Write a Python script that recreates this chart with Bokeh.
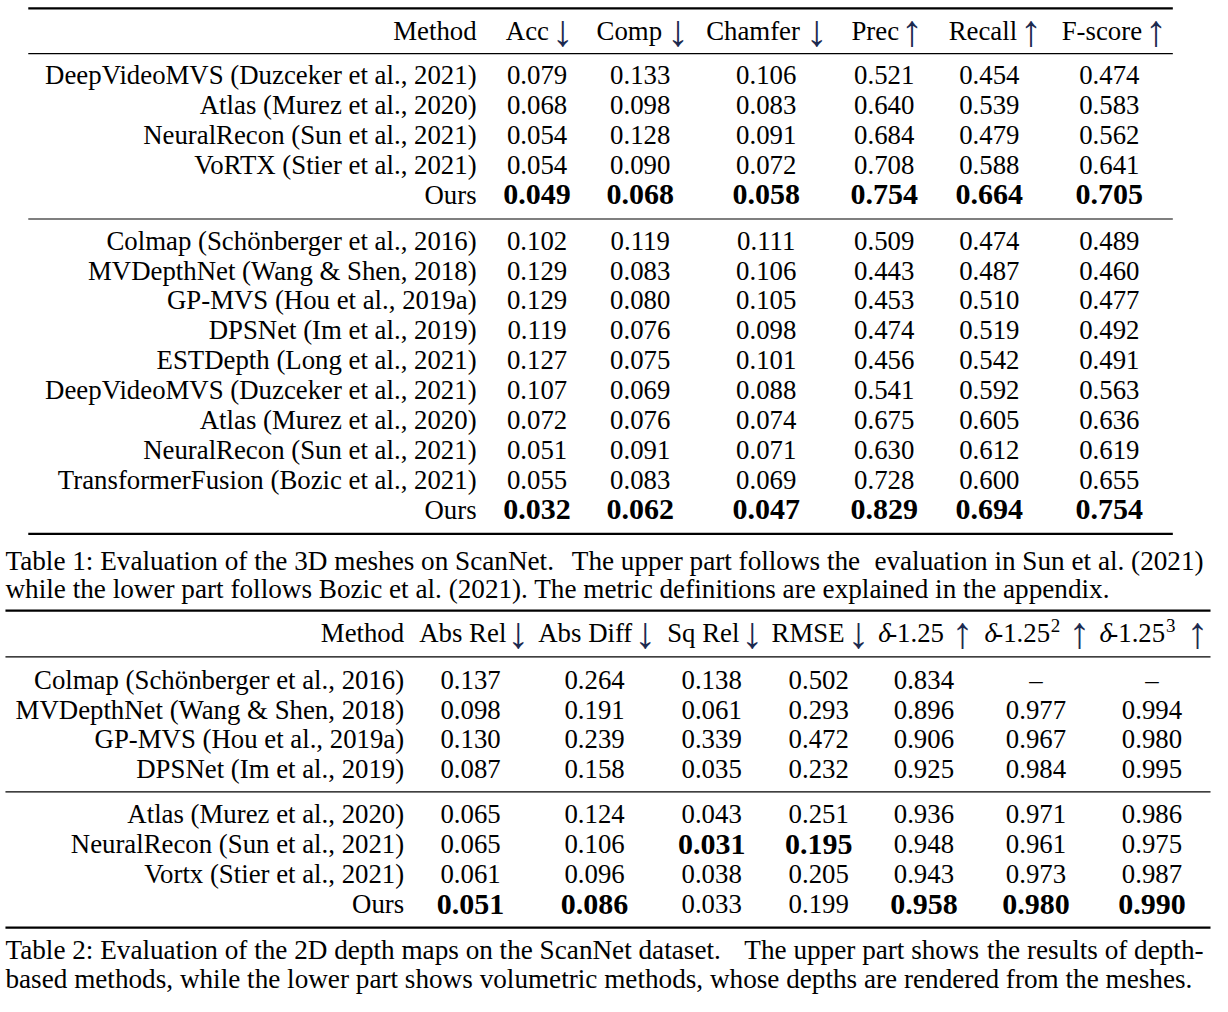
from bokeh.plotting import figure
from bokeh.models import Range1d, ColumnDataSource
from bokeh.embed import file_html
from bokeh.resources import INLINE
from bokeh.core.properties import value

# ---------------- data ----------------
t1_headers = ["Acc", "Comp", "Chamfer", "Prec", "Recall", "F-score"]
t1_arrows = ["↓", "↓", "↓", "↑", "↑", "↑"]

t1u_methods = ["DeepVideoMVS (Duzceker et al., 2021)", "Atlas (Murez et al., 2020)",
               "NeuralRecon (Sun et al., 2021)", "VoRTX (Stier et al., 2021)", "Ours"]
t1u_acc = [0.079, 0.068, 0.054, 0.054, 0.049]
t1u_comp = [0.133, 0.098, 0.128, 0.090, 0.068]
t1u_chamfer = [0.106, 0.083, 0.091, 0.072, 0.058]
t1u_prec = [0.521, 0.640, 0.684, 0.708, 0.754]
t1u_recall = [0.454, 0.539, 0.479, 0.588, 0.664]
t1u_fscore = [0.474, 0.583, 0.562, 0.641, 0.705]

t1l_methods = ["Colmap (Schönberger et al., 2016)", "MVDepthNet (Wang & Shen, 2018)",
               "GP-MVS (Hou et al., 2019a)", "DPSNet (Im et al., 2019)",
               "ESTDepth (Long et al., 2021)", "DeepVideoMVS (Duzceker et al., 2021)",
               "Atlas (Murez et al., 2020)", "NeuralRecon (Sun et al., 2021)",
               "TransformerFusion (Bozic et al., 2021)", "Ours"]
t1l_acc = [0.102, 0.129, 0.129, 0.119, 0.127, 0.107, 0.072, 0.051, 0.055, 0.032]
t1l_comp = [0.119, 0.083, 0.080, 0.076, 0.075, 0.069, 0.076, 0.091, 0.083, 0.062]
t1l_chamfer = [0.111, 0.106, 0.105, 0.098, 0.101, 0.088, 0.074, 0.071, 0.069, 0.047]
t1l_prec = [0.509, 0.443, 0.453, 0.474, 0.456, 0.541, 0.675, 0.630, 0.728, 0.829]
t1l_recall = [0.474, 0.487, 0.510, 0.519, 0.542, 0.592, 0.605, 0.612, 0.600, 0.694]
t1l_fscore = [0.489, 0.460, 0.477, 0.492, 0.491, 0.563, 0.636, 0.619, 0.655, 0.754]

t2_headers = ["Abs Rel", "Abs Diff", "Sq Rel", "RMSE", "-1.25", "-1.25", "-1.25"]
t2_greek = ["", "", "", "", "δ", "δ", "δ"]
t2_sup = ["", "", "", "", "", "2", "3"]
t2_arrows = ["↓", "↓", "↓", "↓", "↑", "↑", "↑"]

t2u_methods = ["Colmap (Schönberger et al., 2016)", "MVDepthNet (Wang & Shen, 2018)",
               "GP-MVS (Hou et al., 2019a)", "DPSNet (Im et al., 2019)"]
t2u_absrel = [0.137, 0.098, 0.130, 0.087]
t2u_absdiff = [0.264, 0.191, 0.239, 0.158]
t2u_sqrel = [0.138, 0.061, 0.339, 0.035]
t2u_rmse = [0.502, 0.293, 0.472, 0.232]
t2u_d1 = [0.834, 0.896, 0.906, 0.925]
t2u_d2 = [None, 0.977, 0.967, 0.984]
t2u_d3 = [None, 0.994, 0.980, 0.995]

t2l_methods = ["Atlas (Murez et al., 2020)", "NeuralRecon (Sun et al., 2021)",
               "Vortx (Stier et al., 2021)", "Ours"]
t2l_absrel = [0.065, 0.065, 0.061, 0.051]
t2l_absdiff = [0.124, 0.106, 0.096, 0.086]
t2l_sqrel = [0.043, 0.031, 0.038, 0.033]
t2l_rmse = [0.251, 0.195, 0.205, 0.199]
t2l_d1 = [0.936, 0.948, 0.943, 0.958]
t2l_d2 = [0.971, 0.961, 0.973, 0.980]
t2l_d3 = [0.986, 0.975, 0.987, 0.990]

# caption lines split into chunks (left part, middle part, right part) to mimic justification
caption1 = [("Table 1: Evaluation of the 3D meshes on ScanNet.",
             "The upper part follows the",
             "evaluation in Sun et al. (2021)"),
            ("while the lower part follows Bozic et al. (2021). The metric definitions are explained in the appendix.", "", "")]
caption2 = [("Table 2: Evaluation of the 2D depth maps on the ScanNet dataset.",
             "The upper part shows",
             "the results of depth-"),
            ("based methods, while the lower part shows volumetric methods, whose depths are rendered from the meshes.", "", "")]

# ---------------- layout / style ----------------
FONT = "Liberation Serif"
FS = "26.8px"
FS_SUP = "19px"
FS_CAP = "27.2px"
FS_BOLD = "30px"
FS_ARROW = "44px"
TXT = "#000000"
ARW = "#1c2a4f"

p = figure(width=1212, height=996, x_range=Range1d(0, 1222), y_range=Range1d(1010, -2),
           output_backend="svg", toolbar_location=None, min_border=0,
           x_axis_type=None, y_axis_type=None)
p.grid.visible = False
p.outline_line_color = None
p.background_fill_color = "white"

groups = {}


def add(key, x, y, t):
    g = groups.setdefault(key, dict(x=[], y=[], text=[]))
    g["x"].append(x)
    g["y"].append(y)
    g["text"].append(t)


def best_flags(cols, arrows, highlight):
    flags = []
    for col, a in zip(cols, arrows):
        vals = [v for v in col if v is not None]
        b = min(vals) if a == "↓" else max(vals)
        flags.append([highlight and (v is not None and v == b) for v in col])
    return flags


def add_section(methods, cols, arrows, method_right, col_x, y0, step, highlight):
    flags = best_flags(cols, arrows, highlight)
    for i, m in enumerate(methods):
        y = y0 + i * step
        add("right", method_right, y, m)
        for j, col in enumerate(cols):
            v = col[i]
            if v is None:
                add("center", col_x[j], y, "–")
            elif flags[j][i]:
                add("center_bold", col_x[j], y, f"{v:.3f}")
            else:
                add("center", col_x[j], y, f"{v:.3f}")


# Table 1 (y values are row centres)
t1_col_x = [541, 645, 772, 891, 997, 1118]
t1_label_right = [553, 667, 806, 906, 1025, 1151]
t1_arrow_cx = [567, 683, 823, 919, 1039, 1165]
HC1 = 29
add("right", 480, HC1, "Method")
for h, a, lx, ax in zip(t1_headers, t1_arrows, t1_label_right, t1_arrow_cx):
    add("right", lx, HC1, h)
    add("arrow", ax, HC1, a)

add_section(t1u_methods, [t1u_acc, t1u_comp, t1u_chamfer, t1u_prec, t1u_recall, t1u_fscore],
            t1_arrows, 480, t1_col_x, 74, 30.4, True)
add_section(t1l_methods, [t1l_acc, t1l_comp, t1l_chamfer, t1l_prec, t1l_recall, t1l_fscore],
            t1_arrows, 480, t1_col_x, 242, 30.4, True)

# Table 2
t2_col_x = [474, 599, 717, 825, 931, 1044, 1161]
t2_label_right = [510, 637, 745, 851, None, None, None]
t2_greek_x = [None, None, None, None, 885, 992, 1108]
t2_arrow_cx = [522, 650, 758, 865, 970, 1088, 1207]
HC2 = 641
SUP_DX = 67    # "δ" + "-1.25" advance at the header size
add("right", 407, HC2, "Method")
for h, g, s, a, lx, gx, ax in zip(t2_headers, t2_greek, t2_sup, t2_arrows, t2_label_right,
                                   t2_greek_x, t2_arrow_cx):
    if g:
        add("italic", gx, HC2, g)
        add("left", gx + 10, HC2, h)
        if s:
            add("sup", gx + SUP_DX, HC2 - 8, s)
    else:
        add("right", lx, HC2, h)
    add("arrow", ax, HC2, a)

add_section(t2u_methods, [t2u_absrel, t2u_absdiff, t2u_sqrel, t2u_rmse, t2u_d1, t2u_d2, t2u_d3],
            t2_arrows, 407, t2_col_x, 688, 30.4, False)
add_section(t2l_methods, [t2l_absrel, t2l_absdiff, t2l_sqrel, t2l_rmse, t2l_d1, t2l_d2, t2l_d3],
            t2_arrows, 407, t2_col_x, 825, 30.4, True)

# Captions
cap1_mid_x = 576
cap2_mid_x = 750
for i, (left, mid, right) in enumerate(caption1):
    y = 567 + i * 29
    add("cap_left", 5, y, left)
    if mid:
        add("cap_left", cap1_mid_x, y, mid)
    if right:
        add("cap_right", 1213, y, right)
for i, (left, mid, right) in enumerate(caption2):
    y = 963 + i * 29
    add("cap_left", 5, y, left)
    if mid:
        add("cap_left", cap2_mid_x, y, mid)
    if right:
        add("cap_right", 1213, y, right)

styles = {
    "right": dict(text_align="right", text_font_style="normal", text_color=TXT, text_font_size=FS),
    "left": dict(text_align="left", text_font_style="normal", text_color=TXT, text_font_size=FS),
    "sup": dict(text_align="left", text_font_style="normal", text_color=TXT, text_font_size=FS_SUP),
    "cap_left": dict(text_align="left", text_font_style="normal", text_color=TXT, text_font_size=FS_CAP),
    "cap_right": dict(text_align="right", text_font_style="normal", text_color=TXT, text_font_size=FS_CAP),
    "center": dict(text_align="center", text_font_style="normal", text_color=TXT, text_font_size=FS),
    "center_bold": dict(text_align="center", text_font_style="bold", text_color=TXT, text_font_size=FS_BOLD),
    "italic": dict(text_align="left", text_font_style="italic", text_color=TXT, text_font_size=FS),
    "arrow": dict(text_align="center", text_font_style="normal", text_color=ARW, text_font_size=FS_ARROW),
}
for key, g in groups.items():
    p.text(x="x", y="y", text="text", source=ColumnDataSource(g),
           text_font=value(FONT), text_baseline="middle", **styles[key])

# Rules (booktabs style)
thick_y = [6, 540, 618, 940]
thick_x0 = [28, 28, 5, 5]
thick_x1 = [1182, 1182, 1220, 1220]
p.segment(x0=thick_x0, y0=thick_y, x1=thick_x1, y1=thick_y, line_color="black", line_width=2.2)
thin_y = [52, 220, 665, 802]
thin_x0 = [28, 28, 5, 5]
thin_x1 = [1182, 1182, 1220, 1220]
p.segment(x0=thin_x0, y0=thin_y, x1=thin_x1, y1=thin_y, line_color="black", line_width=1.2)

open("out.html", "w").write(file_html(p, INLINE))
